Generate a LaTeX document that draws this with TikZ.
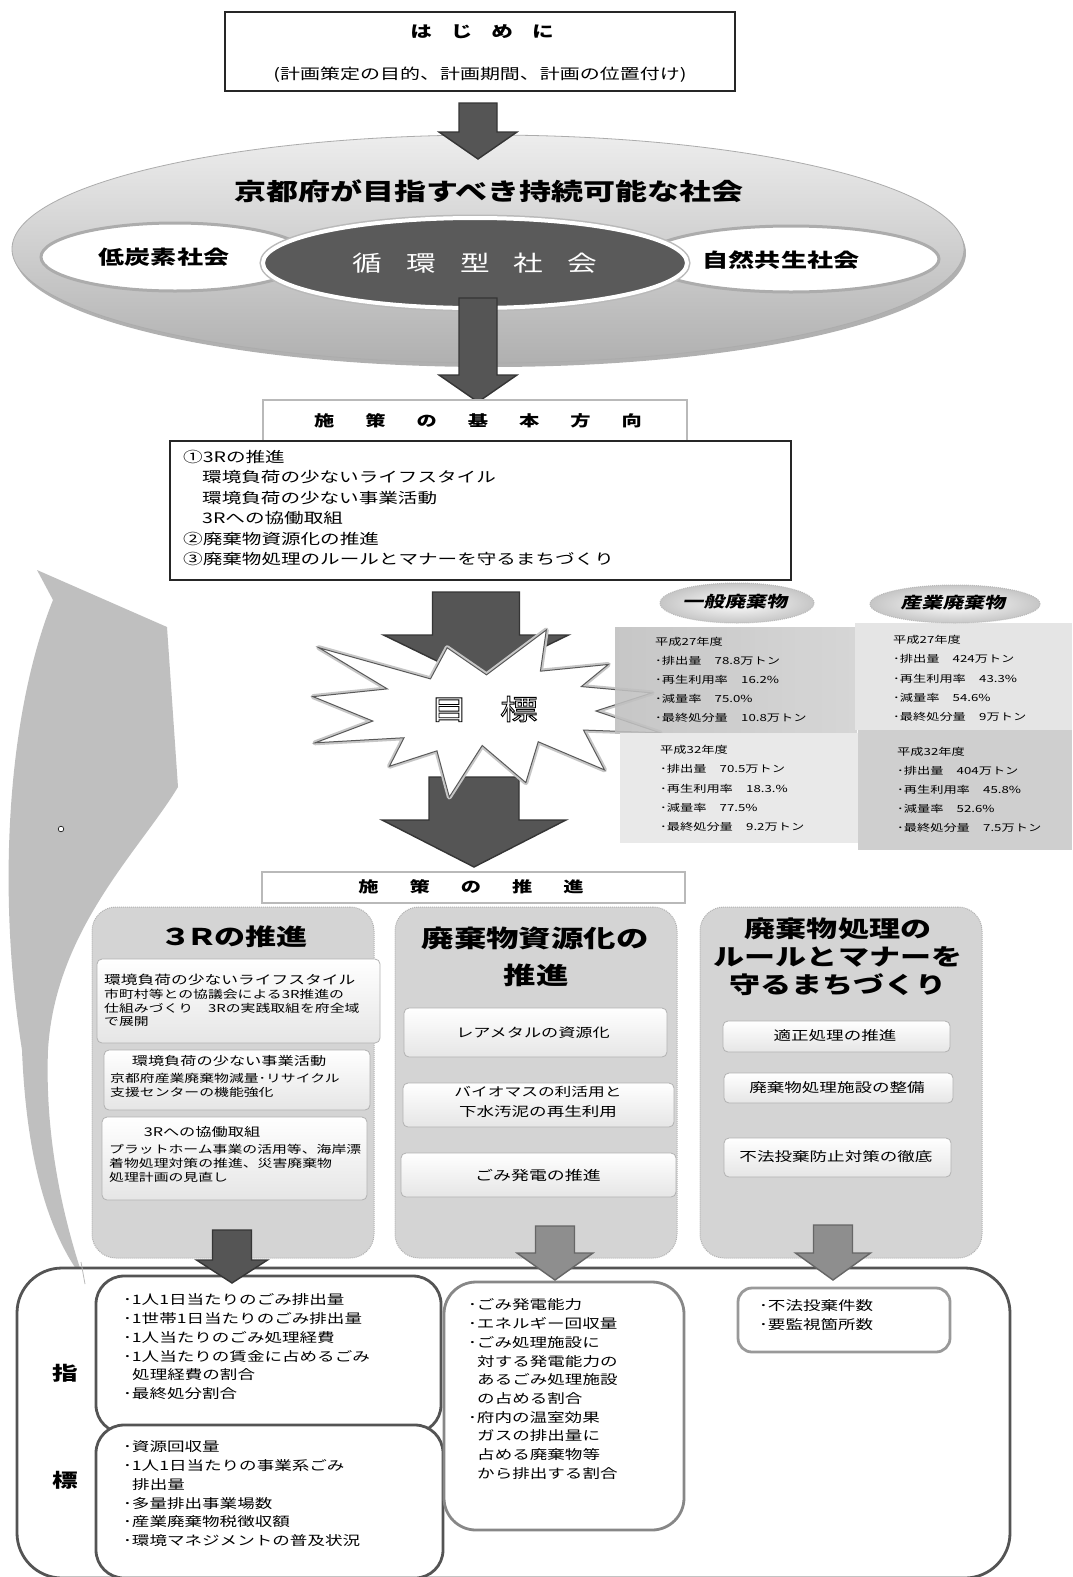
\documentclass[tikz,border=0pt]{standalone}
\usepackage{fontspec}
\setmainfont[FakeStretch=1.35]{Noto Sans CJK JP}
\newfontfamily\jpsl[FakeStretch=1.35,FakeSlant=0.2]{Noto Sans CJK JP}
\usetikzlibrary{shapes.geometric}
\definecolor{adk}{HTML}{555555}
\definecolor{adkln}{HTML}{353535}
\definecolor{alt}{HTML}{8E8E8E}
\definecolor{altln}{HTML}{666666}
\definecolor{cdark}{HTML}{5A5A5A}
\newcommand\fs[1]{\fontsize{#1}{#1}\selectfont}
\newcommand\barrow[7]{\path[#1] ({#2-#6},#3) -- ({#2+#6},#3) -- ({#2+#6},#4) -- ({#2+#7},#4) -- (#2,#5) -- ({#2-#7},#4) -- ({#2-#6},#4) -- cycle;}
\newcommand\bx[6]{\node[#2, minimum width={#5-#3}, minimum height={#6-#4}, inner sep=0pt, outer sep=0pt] (#1) at ({(#3+#5)/2},{(#4+#6)/2}) {};}
\newcommand\tlines[6]{\foreach \t [count=\i] in {#6}{\node[anchor=west, inner sep=0pt, font={#5}] (#1\i) at ({#2},{#3+(\i-1)*#4}) {\t};}}
\tikzset{
  darrow/.style={fill=adk, draw=adkln, line width=1.4, line join=miter},
  larrow/.style={fill=alt, draw=altln, line width=1.4, line join=miter},
  panel/.style={rectangle, fill=gray!34, draw=gray!60, densely dotted, line width=1, rounded corners=24},
  subbox/.style={rectangle, top color=white, bottom color=gray!20, draw=gray!60, line width=0.8, rounded corners=5},
  indbox/.style={rectangle, draw=black!67, line width=2.8, fill=white, rounded corners=28},
  plainbox/.style={rectangle, fill=white},
}
\begin{document}
\begin{tikzpicture}[x=1pt,y=-1pt]
\useasboundingbox (0,0) rectangle (1072,1577);
\fill[white] (0,0) rectangle (1072,1577);

% big curved return arrow on the left
\fill[gray!50] (37,570) -- (167,627) -- (178,787)
  .. controls (140,850) and (55,930) .. (48,1050)
  .. controls (45,1130) and (60,1210) .. (84,1280)
  .. controls (45,1230) and (26,1150) .. (22,1050)
  .. controls (-2,900) and (5,720) .. (53,600) -- cycle;
\draw[black, fill=white, line width=0.6] (61,829) circle (2.8);

% introduction box
\bx{intro}{plainbox, draw=black!85, line width=1.2}{225}{12}{735}{91}
\node[font={\fs{16}\bfseries}] (introt) at (482,32) {は\hspace{19pt}じ\hspace{19pt}め\hspace{19pt}に};
\node[font=\fs{14.8}] (introsub) at (480,75) {(計画策定の目的、計画期間、計画の位置付け)};

% society ellipse
\node[ellipse, fill=gray!62, minimum width=952, minimum height=228, inner sep=0pt] (socsh) at (490,253) {};
\node[ellipse, top color=gray!14, bottom color=gray!62, draw=gray!65, line width=0.8, minimum width=952, minimum height=228, inner sep=0pt] (soc) at (488,249) {};
\barrow{darrow}{478}{103}{132}{159}{19}{39}
\node[font={\fs{23.7}\bfseries}] (soct) at (489,191) {京都府が目指すべき持続可能な社会};
\node[ellipse, fill=white, draw=gray!65, line width=3, minimum width=268, minimum height=68, inner sep=0pt] (low) at (175,257) {};
\node[ellipse, fill=white, draw=gray!65, line width=3, minimum width=296, minimum height=66, inner sep=0pt] (nat) at (791,259) {};
\node[font={\fs{19.3}\bfseries}] (lowt) at (164,257) {低炭素社会};
\node[font={\fs{19.3}\bfseries}] (natt) at (781,260) {自然共生社会};
\node[ellipse, draw=gray!55, line width=7, minimum width=424, minimum height=90, inner sep=0pt] (junkrim) at (475,263) {};
\node[ellipse, fill=cdark, draw=white, line width=4, minimum width=424, minimum height=90, inner sep=0pt] (junk) at (475,263) {};
\node[font=\fs{22}, text=white] (junkt) at (475,263) {循\hspace{24pt}環\hspace{24pt}型\hspace{24pt}社\hspace{24pt}会};
\barrow{darrow}{478}{298}{375}{402}{19}{39}

% basic direction
\bx{kihon}{plainbox, draw=gray!55, line width=1.5}{263}{400}{687}{441}
\node[font={\fs{15}\bfseries}] (kihont) at (478,421) {施\hspace{31pt}策\hspace{31pt}の\hspace{31pt}基\hspace{31pt}本\hspace{31pt}方\hspace{31pt}向};
\bx{list}{plainbox, draw=black!85, line width=1.5}{170}{441}{791}{580}
\tlines{la}{183}{457}{20.4}{\fs{14.5}}{①3Rの推進}
\tlines{lb}{202}{477.4}{20.4}{\fs{14.5}}{環境負荷の少ないライフスタイル,環境負荷の少ない事業活動,3Rへの協働取組}
\tlines{lc}{183}{538.6}{20.4}{\fs{14.5}}{②廃棄物資源化の推進,③廃棄物処理のルールとマナーを守るまちづくり}

% target
\barrow{darrow}{476}{592}{635}{680}{43.5}{92.5}
\barrow{darrow}{474}{777}{820}{867}{45}{92}
\begin{scope}[shift={(313,630)}, x=1.6065pt, y=-0.77315pt]
\path[preaction={draw=gray!45, line width=5, line join=round}, fill=white, draw=black!65, line width=1, line join=miter]
 (108,58) -- (145.22,0) -- (141.55,53.25) -- (183.80,44.57) -- (167.02,73.15) -- (210.97,81.37) -- (176.07,104.75) -- (216,132.90) -- (168.37,129.42) -- (181.45,180.95) -- (140.20,144.57) -- (132.47,197.37) -- (105.32,149.35) -- (84.85,216) -- (77.15,156.27) -- (47.62,176.17) -- (56.67,139.37) -- (1.35,145.87) -- (37.22,117.75) -- (0,86.15) -- (46.27,76.17) -- (3.70,22.95) -- (73.12,63.20) -- (83.52,22.95) -- cycle;
\end{scope}
\node[font=\fs{28}, text=white] (goal) at (484,709) {\special{pdf:literal direct 2 Tr 0.9 w 0 G}目\hspace{32pt}標\special{pdf:literal direct 0 Tr}};

% data boxes
\bx{d1}{rectangle, left color=gray!50, right color=gray!36, fill opacity=0.88}{615}{627}{857}{733}
\bx{d2}{rectangle, fill=gray!20}{855}{623}{1072}{730}
\bx{d3}{rectangle, fill=gray!17}{620}{733}{858}{843}
\bx{d4}{rectangle, fill=gray!38}{858}{730}{1072}{850}
\node[ellipse, inner color=white, outer color=gray!45, draw=gray!55, densely dotted, line width=1, minimum width=154, minimum height=40, inner sep=0pt] (ippan) at (737,603) {};
\node[ellipse, inner color=white, outer color=gray!45, draw=gray!55, densely dotted, line width=1, minimum width=170, minimum height=38, inner sep=0pt] (sangyo) at (955,604) {};
\node[font={\jpsl\fs{15.5}\bfseries}] (ippant) at (735,602) {一般廃棄物};
\node[font={\jpsl\fs{15.5}\bfseries}] (sangyot) at (953,603) {産業廃棄物};
\tlines{da}{655}{642}{19}{\fs{9.8}}{平成27年度,･排出量　78.8万トン,･再生利用率　16.2\%,･減量率　75.0\%,･最終処分量　10.8万トン}
\tlines{db}{893}{640}{19.2}{\fs{9.8}}{平成27年度,･排出量　424万トン,･再生利用率　43.3\%,･減量率　54.6\%,･最終処分量　9万トン}
\tlines{dc}{660}{750}{19.2}{\fs{9.8}}{平成32年度,･排出量　70.5万トン,･再生利用率　18.3.\%,･減量率　77.5\%,･最終処分量　9.2万トン}
\tlines{dd}{897}{752}{19}{\fs{9.8}}{平成32年度,･排出量　404万トン,･再生利用率　45.8\%,･減量率　52.6\%,･最終処分量　7.5万トン}

% promotion
\bx{suishin}{plainbox, draw=gray!55, line width=1.5}{262}{872}{685}{903}
\node[font={\fs{15}\bfseries}] (suishint) at (471,887) {施\hspace{31pt}策\hspace{31pt}の\hspace{31pt}推\hspace{31pt}進};

% panels
\bx{p1}{panel}{92}{907}{374}{1258}
\bx{p2}{panel}{395}{907}{677}{1258}
\bx{p3}{panel}{700}{907}{982}{1258}
\node[font={\fs{23}\bfseries}] (p1t) at (234,937) {３\hspace{-5pt}Ｒ\hspace{-4pt}の推進};
\node[font={\fs{24}\bfseries}] (p2ta) at (535,938) {廃棄物資源化の};
\node[font={\fs{24}\bfseries}] (p2tb) at (536,975) {推進};
\node[font={\fs{23}\bfseries}] (p3ta) at (838,929) {廃棄物処理の};
\node[font={\fs{23}\bfseries}] (p3tb) at (838,957) {ルールとマナーを};
\node[font={\fs{23}\bfseries}] (p3tc) at (838,985) {守るまちづくり};

\bx{s1a}{subbox}{97}{959}{380}{1043}
\bx{s1b}{subbox}{104}{1050}{370}{1110}
\bx{s1c}{subbox}{102}{1117}{367}{1200}
\bx{s2a}{subbox}{404}{1008}{667}{1057}
\bx{s2b}{subbox}{403}{1083}{674}{1127}
\bx{s2c}{subbox}{401}{1153}{676}{1197}
\bx{s3a}{subbox}{723}{1021}{950}{1052}
\bx{s3b}{subbox}{724}{1073}{953}{1103}
\bx{s3c}{subbox}{724}{1138}{951}{1177}

\tlines{sa}{104}{980}{14}{\fs{12.4}}{環境負荷の少ないライフスタイル}
\tlines{sb}{104}{994}{14}{\fs{11}}{市町村等との協議会による3R推進の,仕組みづくり　3Rの実践取組を府全域,で展開}
\node[font=\fs{12}] (s1bt) at (229,1061) {環境負荷の少ない事業活動};
\tlines{sc}{110}{1078}{14}{\fs{11}}{京都府産業廃棄物減量･リサイクル,支援センターの機能強化}
\node[font=\fs{12}] (s1ct) at (202,1132) {3Rへの協働取組};
\tlines{sd}{109}{1149}{14}{\fs{11}}{プラットホーム事業の活用等、海岸漂,着物処理対策の推進、災害廃棄物,処理計画の見直し}
\node[font=\fs{12.7}] (s2at) at (533,1033) {レアメタルの資源化};
\node[font=\fs{12.4}] (s2bt) at (538,1092) {バイオマスの利活用と};
\node[font=\fs{13}] (s2bu) at (538,1112) {下水汚泥の再生利用};
\node[font=\fs{13.3}] (s2ct) at (538,1175) {ごみ発電の推進};
\node[font=\fs{13}] (s3at) at (835,1036) {適正処理の推進};
\node[font=\fs{13}] (s3bt) at (837,1088) {廃棄物処理施設の整備};
\node[font=\fs{13}] (s3ct) at (836,1157) {不法投棄防止対策の徹底};

% indicators
\bx{ind}{indbox, rounded corners=45}{17}{1268}{1010}{1578}
\draw[gray!55, line width=0.8] (81,1262) -- (85,1284);
\bx{i1}{indbox}{96}{1276}{441}{1433}
\bx{i2}{indbox}{96}{1425}{443}{1578}
\bx{i3}{indbox, draw=black!47, rounded corners=32}{444}{1282}{684}{1530}
\bx{i4}{indbox, draw=black!40, rounded corners=14}{738}{1288}{950}{1352}
\node[font={\fs{19}\bfseries}] (shi) at (65,1373) {指};
\node[font={\fs{19}\bfseries}] (hyo) at (65,1480) {標};
\tlines{ia}{123}{1300}{18.7}{\fs{13}}{･1人1日当たりのごみ排出量,･1世帯1日当たりのごみ排出量,･1人当たりのごみ処理経費,･1人当たりの賃金に占めるごみ,\hspace{9pt}処理経費の割合,･最終処分割合}
\tlines{ib}{123}{1447}{18.7}{\fs{13}}{･資源回収量,･1人1日当たりの事業系ごみ,\hspace{9pt}排出量,･多量排出事業場数,･産業廃棄物税徴収額,･環境マネジメントの普及状況}
\tlines{ic}{468}{1305}{18.7}{\fs{13}}{･ごみ発電能力,･エネルギー回収量,･ごみ処理施設に,\hspace{9pt}対する発電能力の,\hspace{9pt}あるごみ処理施設,\hspace{9pt}の占める割合,･府内の温室効果,\hspace{9pt}ガスの排出量に,\hspace{9pt}占める廃棄物等,\hspace{9pt}から排出する割合}
\tlines{id}{759}{1306}{18.7}{\fs{13}}{･不法投棄件数,･要監視箇所数}

\barrow{darrow}{232}{1230}{1260}{1283}{19.5}{35.5}
\barrow{larrow}{555}{1226}{1253}{1280}{19.5}{38}
\barrow{larrow}{833}{1225}{1253}{1280}{19.5}{37.5}
\end{tikzpicture}
\end{document}
